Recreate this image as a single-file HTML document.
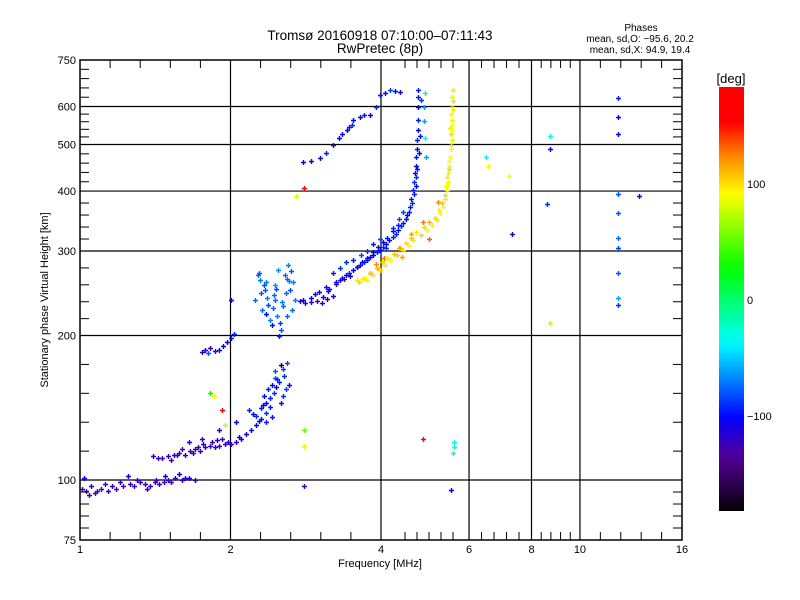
<!DOCTYPE html>
<html><head><meta charset="utf-8"><style>
html,body{margin:0;padding:0;background:#fff;}
svg{display:block;font-family:"Liberation Sans",sans-serif;}
</style></head><body>
<svg id="chart" width="800" height="600" viewBox="0 0 800 600" xmlns="http://www.w3.org/2000/svg">
<rect width="800" height="600" fill="#fff"/>
<text x="380" y="40" font-size="13.5" text-anchor="middle">Tromsø 20160918 07:10:00–07:11:43</text>
<text x="380" y="53" font-size="13.5" text-anchor="middle">RwPretec (8p)</text>
<text x="641" y="31" font-size="10" text-anchor="middle">Phases</text>
<text x="640" y="42" font-size="10" text-anchor="middle">mean, sd,O: −95.6, 20.2</text>
<text x="640" y="53" font-size="10" text-anchor="middle">mean, sd,X:  94.9, 19.4</text>
<g id="grid"></g>
<g id="marks"></g>
<rect x="80" y="60" width="602" height="480" fill="none" stroke="#000" stroke-width="1.5"/>
<g id="axes"></g>
<text x="380" y="567" font-size="11" text-anchor="middle">Frequency [MHz]</text>
<text transform="translate(48,300) rotate(-90)" font-size="11" text-anchor="middle">Stationary phase Virtual Height [km]</text>
<defs><linearGradient id="cbg" x1="0" y1="1" x2="0" y2="0"></linearGradient></defs>
<rect x="719" y="87" width="25" height="424" fill="url(#cbg)"/>
<text x="731" y="83" font-size="13" text-anchor="middle">[deg]</text>
<g id="cbticks"></g>
</svg>
<script>
const xTicks=[1,2,4,6,8,10,16];
const yTicks=[75,100,200,300,400,500,600,750];
const yGrid=[100,200,300,400,500,600];
const xGrid=[2,4,6,8,10];
const cbTicks=[100,0,-100];
const freqs=[1.01,1.03,1.05,1.07,1.10,1.14,1.18,1.22,1.26,1.28,1.32,1.35,1.38,1.41,1.44,1.47,1.50,1.55,1.60,1.65,1.70,1.02,1.25,1.48,1.58,
1.40,1.43,1.46,1.50,1.54,1.58,1.62,1.66,1.70,1.74,1.78,1.82,1.86,1.90,1.95,2.00,2.05,2.10,2.15,2.20,2.25,1.75,1.65,1.9,2.05,2.3,2.35,
2.18,2.22,2.25,2.30,2.36,2.40,2.44,2.47,2.50,2.55,2.58,2.52,2.40,2.35,2.45,2.55,2.60,2.45,2.52,
1.75,1.78,1.82,1.86,1.90,1.93,1.97,2.00,2.03,1.80,
2.24,2.29,2.31,2.34,2.40,2.45,2.49,2.57,2.61,2.63,2.66,2.69,2.38,2.52,2.55,2.48,2.30,2.58,2.62,2.45,2.35,2.42,2.50,
2.75,2.82,2.90,2.98,3.05,3.12,3.20,
2.79,2.90,3.06,3.15,3.31,3.40,3.52,3.63,3.75,3.86,3.98,4.10,4.23,4.33,4.43,4.50,4.57,4.64,4.60,4.68,4.66,4.70,4.70,4.72,4.72,4.74,4.74,4.74,4.74,4.75,
3.31,3.52,3.75,3.98,4.23,4.43,4.10,3.85,3.65,3.40,4.35,3.20,
4.88,4.88,4.90,4.90,4.92,
3.58,3.66,3.75,3.86,3.98,4.08,4.17,4.30,4.43,4.55,4.64,4.80,4.94,5.05,5.18,5.25,5.32,5.38,5.42,5.45,5.44,5.50,5.47,5.55,5.52,5.55,5.55,5.55,5.55,5.56,5.50,5.52,
3.90,4.05,4.35,4.60,4.85,5.20,5.00,4.40,3.80,
2.79,2.90,3.02,3.10,3.21,3.30,3.42,3.50,3.52,3.63,3.70,3.80,3.90,3.98,4.08,4.17,4.27,4.37,3.35,3.45,
2.80,2.70,2.00,4.85,5.60,5.60,5.58,5.52,2.80,2.80,2.80,1.82,1.85,1.92,1.95,6.50,6.55,7.20,7.30,8.70,8.70,8.60,8.70,11.9,11.9,11.9,11.9,11.9,11.9,11.9,11.9,11.9,11.9,13.1,
2.95,3.00,3.10,3.25,3.35,3.45,3.58,3.70,3.80,3.92,4.03,4.15,4.28,4.38,4.48,4.55,4.62,4.66,4.69,4.71,4.73,4.76,4.78,4.80,
3.62,3.70,3.80,3.92,4.02,4.12,4.24,4.36,4.48,4.60,4.70,4.88,5.00,5.12,5.22,5.30,5.36,5.40,5.43,5.46,5.48,5.51,5.53,5.54,5.57,5.58,
2.27,2.33,2.37,2.43,2.47,2.54,2.59,2.64,2.67,2.60,2.51,2.44,2.36,2.28,
1.04,1.08,1.12,1.16,1.20,1.30,1.36,1.42,1.52,1.62,1.52,1.56,1.60,1.68,1.72,1.76,1.84,1.88,1.92,1.98,2.08,
2.33,2.38,2.42,2.48,2.56,2.62,2.42,2.28,2.32,
3.14,3.25,3.38,3.46,3.58,3.66,3.75,3.85,3.94,4.04,4.12,4.22,4.32];
const heights=[96,95,97,94,96,95,96,97,98,97,99,98,97,99,98,99,100,101,100,101,100,101,102,102,103,
112,111,111,112,113,114,113,115,116,115,117,118,117,118,119,119,120,122,125,127,130,122,120,127,132,134,132,
140,137,136,141,145,148,152,156,160,150,155,145,142,138,163,170,175,169,174,
185,187,188,186,187,190,194,198,201,184,
237,261,226,249,215,237,274,267,281,249,226,237,232,205,230,220,245,245,260,255,222,210,200,
236,234,235,236,234,238,242,
237,240,241,250,261,268,274,280,287,295,301,310,321,332,343,356,370,402,385,436,418,471,452,511,490,562,535,628,600,650,
277,287,300,318,335,362,305,310,295,285,350,270,
600,560,515,640,470,
261,262,261,267,274,280,287,294,301,308,316,324,332,340,348,360,370,385,402,436,418,471,452,511,490,562,535,628,600,650,540,580,
282,290,305,325,345,380,318,292,270,
460,462,469,480,499,515,536,550,562,571,575,576,600,634,640,650,645,643,525,545,
405,390,237,122,120,117,114,95.5,97,118,127,152,150,140,130,470,450,430,325,520,490,375,212,625,570,525,395,360,320,305,270,240,232,390,
244,246,252,258,264,270,278,284,292,298,306,316,326,338,350,362,378,395,410,428,445,480,520,620,
258,264,270,276,284,290,296,304,312,320,328,336,344,352,366,378,392,410,428,445,462,500,525,548,590,615,
268,255,240,228,250,235,262,272,258,220,212,243,258,270,
93,95,98,97,99,100,96,100,99,101,110,113,116,114,117,119,120,121,122,120,123,
150,155,158,162,165,158,135,133,143,
248,256,262,266,278,285,290,298,306,313,320,330,340];
const phases=[-125,-125,-120,-125,-125,-120,-125,-125,-120,-125,-125,-120,-125,-125,-120,-125,-120,-125,-120,-110,-115,-105,-105,-105,-100,
-120,-120,-125,-120,-120,-125,-120,-120,-125,-120,-120,-125,-115,-120,-120,-125,-115,-110,-105,-100,-100,-120,-115,-110,-100,-100,-95,
-95,-100,-90,-95,-100,-95,-90,-100,-95,-90,-85,-110,-95,-90,-80,-85,-85,-80,-170,
-115,-110,-120,-115,-110,-105,-100,-95,-95,-80,
-75,-70,-75,-80,-70,-75,-65,-75,-70,-80,-75,-70,-85,-80,-75,-70,-80,-75,-70,-65,-100,-100,-95,
-120,-125,-120,-125,-120,-115,-110,
-100,-100,-105,-100,-100,-105,-100,-100,-95,-100,-100,-105,-95,-100,-95,-100,-95,-90,-95,-100,-90,-95,-100,-95,-100,-95,-100,-95,-100,-95,
-90,-95,-90,-85,-90,-85,-90,-95,-85,-90,-85,-95,
-60,-60,-30,-20,-60,
95,90,85,95,100,95,90,100,95,90,95,100,90,95,95,90,85,95,90,80,85,90,85,80,90,85,90,80,85,95,80,85,
120,125,120,115,125,120,130,115,120,
-105,-100,-110,-95,-120,-100,-110,-90,-100,-105,-95,-100,-90,-95,-100,-85,-100,-110,-100,-95,
150,80,-110,170,-30,-30,-20,-100,-120,80,50,30,90,160,70,-40,85,90,-115,-30,-100,-90,70,-95,-100,-100,-80,-80,-75,-85,-80,-60,-90,-110,
-105,-100,-95,-100,-105,-95,-100,-95,-100,-95,-90,-100,-95,-90,-100,-95,-90,-95,-100,-90,-95,-100,-95,-90,
100,95,105,110,100,95,105,110,100,105,95,100,110,100,95,105,100,90,95,100,90,95,100,90,95,100,
-75,-80,-70,-75,-85,-70,-75,-80,-70,-75,-85,-75,-70,-80,
-120,-125,-120,-125,-120,-125,-120,-125,-120,-115,-125,-120,-125,-120,-125,-120,-120,-115,-120,-110,-110,
-100,-95,-100,-95,-90,-100,-95,-100,-105,
-120,-115,-120,-110,-115,-105,-110,-100,-105,-100,-95,-100,-95];

const X0=80,X1=682,Y0=540,Y1=60;
function xs(f){return X0+(X1-X0)*Math.log2(f)/4;}
function ys(h){return Y0-(Y0-Y1)*Math.log10(h/75);}
const stopsP=[-182,-134,-101,-37,26,89,120,150,185];
const stopsC=[[0,0,0],[85,0,150],[0,0,255],[0,255,255],[0,255,0],[255,255,0],[255,140,0],[255,0,0],[255,0,0]];
function pc(p){
  if(p<=stopsP[0])return 'rgb(0,0,0)';
  for(let i=1;i<stopsP.length;i++){if(p<=stopsP[i]){const t=(p-stopsP[i-1])/(stopsP[i]-stopsP[i-1]);const a=stopsC[i-1],b=stopsC[i];
    return 'rgb('+a.map((v,k)=>Math.round(v+(b[k]-v)*t)).join(',')+')';}}
  return 'rgb(255,0,0)';
}
const NS='http://www.w3.org/2000/svg';
function mk(tag,attrs,parent){const e=document.createElementNS(NS,tag);for(const k in attrs)e.setAttribute(k,attrs[k]);parent.appendChild(e);return e;}
const grid=document.getElementById('grid'),axes=document.getElementById('axes'),marks=document.getElementById('marks');
xGrid.forEach(v=>{const l=mk('line',{x1:xs(v),x2:xs(v),y1:Y1,y2:Y0,stroke:'#000','stroke-width':1.2},grid);

});
yGrid.forEach(v=>{const l=mk('line',{x1:X0,x2:X1,y1:ys(v),y2:ys(v),stroke:'#000','stroke-width':1.2},grid);

});
function minorX(a,b,n){const pa=xs(a),pb=xs(b);for(let i=1;i<n;i++){const x=pa+(pb-pa)*i/n;
  mk('line',{x1:x,x2:x,y1:Y0,y2:Y0-8,stroke:'#000'},axes);mk('line',{x1:x,x2:x,y1:Y1,y2:Y1+8,stroke:'#000'},axes);}}
minorX(1,2,5);minorX(2,4,5);minorX(8,10,5);minorX(10,16,5);minorX(6,8,5);
[405,417,429,441,453].forEach(x=>{mk('line',{x1:x,x2:x,y1:Y0,y2:Y0-8,stroke:'#000'},axes);mk('line',{x1:x,x2:x,y1:Y1,y2:Y1+8,stroke:'#000'},axes);});
for(let j=0;j<yTicks.length-1;j++){const pa=ys(yTicks[j]),pb=ys(yTicks[j+1]);for(let i=1;i<5;i++){const y=pa+(pb-pa)*i/5;
  mk('line',{x1:X0,x2:X0+9,y1:y,y2:y,stroke:'#000'},axes);mk('line',{x1:X1,x2:X1-9,y1:y,y2:y,stroke:'#000'},axes);}}
xTicks.forEach(v=>{const t=mk('text',{x:xs(v),y:553,'font-size':11,'text-anchor':'middle'},axes);t.textContent=v;

});
yTicks.forEach(v=>{const t=mk('text',{x:76,y:ys(v)+4,'font-size':11,'text-anchor':'end'},axes);t.textContent=v;

});
for(let i=0;i<freqs.length;i++){const x=Math.round(xs(freqs[i]))+0.5,y=Math.round(ys(heights[i]))+0.5;
  const m=mk('path',{d:`M${x-2.5} ${y}H${x+2.5}M${x} ${y-2.5}V${y+2.5}`,stroke:pc(phases[i]),'stroke-width':1.4},marks);
  
  }
const g=document.getElementById('cbg');
for(let k=0;k<=36;k++){const p=-180+k*10;mk('stop',{offset:(k/36),'stop-color':pc(p)},g);}
const cb=document.getElementById('cbticks');
cbTicks.forEach(v=>{const y=300-v*1.16;const t=mk('text',{x:747,y:y+4,'font-size':11},cb);t.textContent=(v<0?'−':'')+Math.abs(v);

});
</script>
</body></html>
